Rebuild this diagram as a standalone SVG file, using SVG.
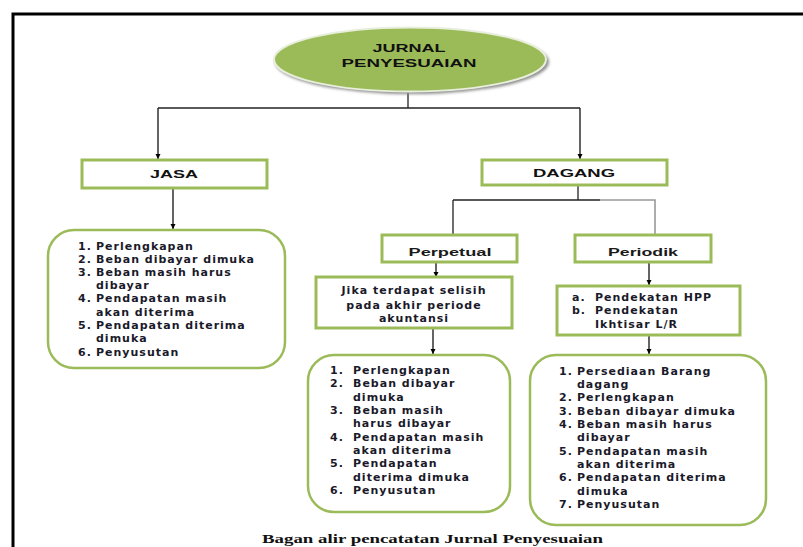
<svg xmlns="http://www.w3.org/2000/svg" width="803" height="547" viewBox="0 0 803 547">
  <style>
    .frame { stroke: #000; stroke-width: 3; fill: none; }
    .box { fill: #fff; stroke: #9BBB59; stroke-width: 3; }
    .rbox { fill: #fff; stroke: #9BBB59; stroke-width: 2.5; }
    .line { stroke: #222; stroke-width: 1.3; fill: none; }
    .grey { stroke: #999; stroke-width: 1.6; fill: none; }
    .arrow { stroke: #111; stroke-width: 1.3; fill: none; marker-end: url(#head); }
    .head { font-family: "Liberation Sans", Arial, sans-serif; font-weight: bold; font-size: 11px; fill: #111; }
    .lbl { font-family: "Liberation Sans", Arial, sans-serif; font-weight: bold; font-size: 11.5px; fill: #1a1a1a; }
    .item { font-family: "DejaVu Sans", sans-serif; font-weight: bold; font-size: 11px; letter-spacing: 1px; fill: #1a1a2a; }
    .mid { text-anchor: middle; }
    .cap { font-family: "Liberation Serif", "Times New Roman", serif; font-weight: bold; font-size: 12.5px; fill: #111; }
  </style>
  <defs>
    <marker id="head" viewBox="0 0 10 10" refX="10" refY="5" markerWidth="5.5" markerHeight="5.5" markerUnits="userSpaceOnUse" orient="auto">
      <path d="M0,0 L10,5 L0,10 z" fill="#000"/>
    </marker>
    <filter id="soft" x="-10%" y="-20%" width="120%" height="140%">
      <feGaussianBlur stdDeviation="1.5"/>
    </filter>
  </defs>

  <!-- page frame -->
  <path class="frame" d="M13,547 L13,14 L803,14"/>

  <!-- connectors -->
  <g id="connectors">
    <path class="line" d="M408,92 L408,108"/>
    <path class="line" d="M158,108 L580,108"/>
    <path class="arrow" d="M158,108 L158,159"/>
    <path class="arrow" d="M580,108 L580,159"/>
    <path class="arrow" d="M173,188 L173,229"/>
    <path class="line" d="M578,185 L578,200"/>
    <path class="line" d="M453,200 L600,200 M453,200 L453,235"/>
    <path class="grey" d="M600,200 L655,200 L655,235"/>
    <path class="arrow" d="M436,262 L436,277"/>
    <path class="arrow" d="M433,328 L433,354"/>
    <path class="arrow" d="M649,262 L649,285"/>
    <path class="arrow" d="M649,335 L649,354"/>
  </g>

  <!-- root ellipse -->
  <g id="jurnal-penyesuaian">
    <ellipse cx="412" cy="62" rx="137" ry="32" fill="#8c8c8c" filter="url(#soft)"/>
    <ellipse cx="410" cy="59.5" rx="136" ry="32" fill="#9BBB59" stroke="#e8eedc" stroke-width="2"/>
    <text class="head mid" x="409" y="52" textLength="73" lengthAdjust="spacingAndGlyphs">JURNAL</text>
    <text class="head mid" x="409" y="67" textLength="135" lengthAdjust="spacingAndGlyphs">PENYESUAIAN</text>
  </g>

  <!-- service branch -->
  <g id="jasa">
    <rect class="box" x="82" y="160" width="185" height="28"/>
    <text class="head mid" x="174" y="178" textLength="48" lengthAdjust="spacingAndGlyphs">JASA</text>
  </g>
  <g id="jasa-akun">
    <rect class="rbox" x="48" y="230" width="237" height="138" rx="26"/>
    <text class="item" x="78" y="250">1.</text><text class="item" x="96" y="250">Perlengkapan</text>
    <text class="item" x="78" y="263">2.</text><text class="item" x="96" y="263">Beban dibayar dimuka</text>
    <text class="item" x="78" y="276">3.</text><text class="item" x="96" y="276">Beban masih harus</text>
    <text class="item" x="96" y="289">dibayar</text>
    <text class="item" x="78" y="302">4.</text><text class="item" x="96" y="302">Pendapatan masih</text>
    <text class="item" x="96" y="316">akan diterima</text>
    <text class="item" x="78" y="329">5.</text><text class="item" x="96" y="329">Pendapatan diterima</text>
    <text class="item" x="96" y="342">dimuka</text>
    <text class="item" x="78" y="356">6.</text><text class="item" x="96" y="356">Penyusutan</text>
  </g>

  <!-- trading branch -->
  <g id="dagang">
    <rect class="box" x="482" y="160" width="185" height="25"/>
    <text class="head mid" x="574" y="177" textLength="82" lengthAdjust="spacingAndGlyphs">DAGANG</text>
  </g>

  <g id="perpetual">
    <rect class="box" x="382" y="235" width="135" height="27"/>
    <text class="lbl mid" x="450" y="256" textLength="83" lengthAdjust="spacingAndGlyphs">Perpetual</text>
  </g>
  <g id="selisih">
    <rect class="box" x="316" y="277" width="196" height="51"/>
    <text class="item mid" x="414" y="294">Jika terdapat selisih</text>
    <text class="item mid" x="414" y="309">pada akhir periode</text>
    <text class="item mid" x="414" y="322">akuntansi</text>
  </g>
  <g id="perpetual-akun">
    <rect class="rbox" x="308" y="355" width="202" height="157" rx="26"/>
    <text class="item" x="330" y="374">1.</text><text class="item" x="353" y="374">Perlengkapan</text>
    <text class="item" x="330" y="387">2.</text><text class="item" x="353" y="387">Beban dibayar</text>
    <text class="item" x="353" y="401">dimuka</text>
    <text class="item" x="330" y="414">3.</text><text class="item" x="353" y="414">Beban masih</text>
    <text class="item" x="353" y="427">harus dibayar</text>
    <text class="item" x="330" y="441">4.</text><text class="item" x="353" y="441">Pendapatan masih</text>
    <text class="item" x="353" y="454">akan diterima</text>
    <text class="item" x="330" y="467">5.</text><text class="item" x="353" y="467">Pendapatan</text>
    <text class="item" x="353" y="481">diterima dimuka</text>
    <text class="item" x="330" y="494">6.</text><text class="item" x="353" y="494">Penyusutan</text>
  </g>

  <g id="periodik">
    <rect class="box" x="575" y="235" width="136" height="27"/>
    <text class="lbl mid" x="643" y="256" textLength="70" lengthAdjust="spacingAndGlyphs">Periodik</text>
  </g>
  <g id="pendekatan">
    <rect class="box" x="557" y="286" width="183" height="49"/>
    <text class="item" x="572" y="301">a.</text><text class="item" x="595" y="301">Pendekatan HPP</text>
    <text class="item" x="572" y="314">b.</text><text class="item" x="595" y="314">Pendekatan</text>
    <text class="item" x="595" y="328">Ikhtisar L/R</text>
  </g>
  <g id="periodik-akun">
    <rect class="rbox" x="530" y="355" width="236" height="170" rx="26"/>
    <text class="item" x="559" y="375">1.</text><text class="item" x="577" y="375">Persediaan Barang</text>
    <text class="item" x="577" y="388">dagang</text>
    <text class="item" x="559" y="401">2.</text><text class="item" x="577" y="401">Perlengkapan</text>
    <text class="item" x="559" y="415">3.</text><text class="item" x="577" y="415">Beban dibayar dimuka</text>
    <text class="item" x="559" y="428">4.</text><text class="item" x="577" y="428">Beban masih harus</text>
    <text class="item" x="577" y="441">dibayar</text>
    <text class="item" x="559" y="455">5.</text><text class="item" x="577" y="455">Pendapatan masih</text>
    <text class="item" x="577" y="468">akan diterima</text>
    <text class="item" x="559" y="481">6.</text><text class="item" x="577" y="481">Pendapatan diterima</text>
    <text class="item" x="577" y="495">dimuka</text>
    <text class="item" x="559" y="508">7.</text><text class="item" x="577" y="508">Penyusutan</text>
  </g>

  <!-- caption -->
  <text class="cap" x="262" y="543" textLength="341" lengthAdjust="spacingAndGlyphs">Bagan alir pencatatan Jurnal Penyesuaian</text>
</svg>
